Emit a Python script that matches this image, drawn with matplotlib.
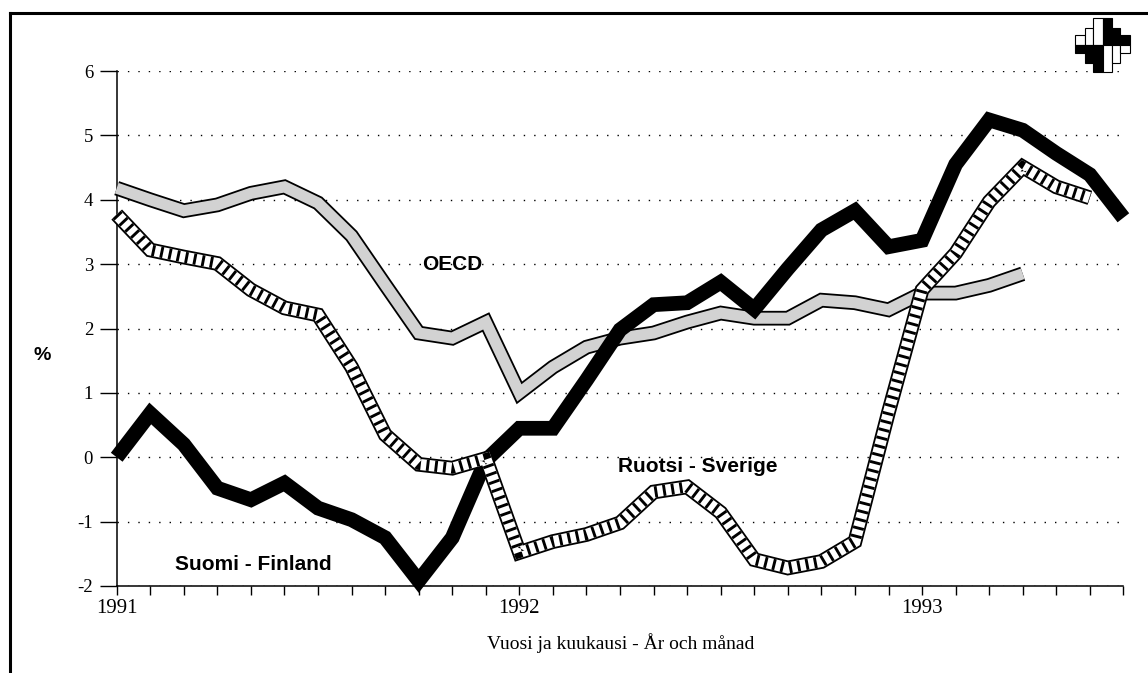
import matplotlib
matplotlib.use("Agg")
import matplotlib.pyplot as plt
from matplotlib.lines import Line2D
from matplotlib.patches import Rectangle
import numpy as np

# ---------------- data ----------------
year_labels = ["1991", "1992", "1993"]
year_positions = [0, 12, 24]           # month index of January
n_months = 31                          # Jan 1991 .. Jul 1993

finland = [0.0, 0.68, 0.2, -0.48, -0.66, -0.40, -0.79, -0.97, -1.25, -1.92,
           -1.25, -0.05, 0.45, 0.45, 1.2, 1.98, 2.37, 2.4, 2.72, 2.3,
           2.93, 3.53, 3.83, 3.27, 3.37, 4.55, 5.24, 5.08, 4.72, 4.39, 3.72]
oecd = [4.18, 4.0, 3.83, 3.92, 4.1, 4.2, 3.95, 3.44, 2.68, 1.93,
        1.85, 2.1, 1.0, 1.4, 1.71, 1.85, 1.93, 2.1, 2.24, 2.16,
        2.16, 2.44, 2.4, 2.29, 2.55, 2.55, 2.67, 2.85]
sweden = [3.77, 3.22, 3.11, 3.01, 2.6, 2.32, 2.21, 1.4, 0.35, -0.11,
          -0.17, -0.02, -1.48, -1.31, -1.2, -1.02, -0.54, -0.46, -0.86, -1.59,
          -1.72, -1.62, -1.31, 0.7, 2.6, 3.17, 3.97, 4.51, 4.2, 4.03]

y_ticks = [-2, -1, 0, 1, 2, 3, 4, 5, 6]
label_finland = "Suomi - Finland"
label_oecd = "OECD"
label_sweden = "Ruotsi - Sverige"
x_title = "Vuosi ja kuukausi - År och månad"
y_title = "%"

# ---------------- figure ----------------
W, H = 1148, 673
fig = plt.figure(figsize=(W / 100, H / 100), dpi=100)
fig.patch.set_facecolor("white")

def px(x, y):
    return x / W, 1 - y / H

ax_l, ax_r, ax_t, ax_b = 116.7, 1123.4, 71, 586
ax = fig.add_axes([ax_l / W, 1 - ax_b / H, (ax_r - ax_l) / W, (ax_b - ax_t) / H])
ax.set_xlim(0, n_months - 1)
ax.set_ylim(-2, 6)
ax.set_facecolor("white")

for s in ["top", "right"]:
    ax.spines[s].set_visible(False)
for s in ["left", "bottom"]:
    ax.spines[s].set_linewidth(1.1)
    ax.spines[s].set_color("black")

serif = "Liberation Serif"
sans = "Liberation Sans"

ax.set_yticks(y_ticks)
ax.set_yticklabels([str(v) for v in y_ticks], fontfamily=serif, fontsize=13.5)
ax.tick_params(axis="y", direction="out", length=12, width=1.0, pad=5, colors="black")

ax.set_xticks(year_positions)
ax.set_xticklabels(year_labels, fontfamily=serif, fontsize=15)
ax.set_xticks(np.arange(n_months), minor=True)
ax.tick_params(axis="x", which="both", direction="out", length=6.5, width=1.0, pad=3)

ax.grid(axis="y", linestyle=(0, (1, 6.5)), color="black", linewidth=1.0)
ax.set_axisbelow(True)

x_f = np.arange(len(finland))
x_o = np.arange(len(oecd))
x_s = np.arange(len(sweden))

outer = 10.6
inner = 8.0

# OECD: stippled grey band with black outline
ax.plot(x_o, oecd, color="black", lw=outer, solid_joinstyle="miter",
        solid_capstyle="butt", zorder=3, clip_on=False)
ax.plot(x_o, oecd, color="#d2d2d2", lw=inner, solid_joinstyle="miter",
        solid_capstyle="butt", zorder=3.1, clip_on=False)

# Finland: solid thick black
ax.plot(x_f, finland, color="black", lw=outer, solid_joinstyle="miter",
        solid_capstyle="butt", zorder=4, clip_on=False)

# Sweden: hatched band with black outline
ax.plot(x_s, sweden, color="black", lw=outer, solid_joinstyle="miter",
        solid_capstyle="butt", zorder=5, clip_on=False)
ax.plot(x_s, sweden, color="white", lw=inner, solid_joinstyle="miter",
        solid_capstyle="butt", zorder=5.1, clip_on=False)
ax.plot(x_s, sweden, color="black", lw=inner, dashes=(0.26, 0.5),
        dash_capstyle="butt", dash_joinstyle="miter", zorder=5.2, clip_on=False)

# series labels
ax.text(10.0, 2.99, label_oecd, fontfamily=sans, fontweight="bold", fontsize=15,
        ha="center", va="center", zorder=6)
ax.text(17.33, -0.15, label_sweden, fontfamily=sans, fontweight="bold", fontsize=15,
        ha="center", va="center", zorder=6)
ax.text(4.07, -1.66, label_finland, fontfamily=sans, fontweight="bold", fontsize=15,
        ha="center", va="center", zorder=6)

# axis titles
fig.text(*px(621, 643), x_title, fontfamily=serif, fontsize=14, ha="center", va="center")
fig.text(*px(42, 355), y_title, fontfamily=sans, fontweight="bold", fontsize=14,
         ha="center", va="center")

# outer frame (left & top edges visible)
fig.add_artist(Line2D([10 / W, 10 / W], [0, 1 - 13 / H], transform=fig.transFigure,
                      color="black", lw=2.2))
fig.add_artist(Line2D([10 / W, 1], [1 - 13 / H, 1 - 13 / H], transform=fig.transFigure,
                      color="black", lw=2.2))

# logo (decoration)
def prect(x0, y0, x1, y1, fc):
    fig.add_artist(Rectangle((x0 / W, 1 - y1 / H), (x1 - x0) / W, (y1 - y0) / H,
                             transform=fig.transFigure, facecolor=fc,
                             edgecolor="black", lw=0.8))

cols = [(1075, 1085, 35, 53), (1085, 1093, 28, 63), (1093, 1103, 18, 72),
        (1103, 1112, 18, 72), (1112, 1120, 28, 63), (1120, 1130, 35, 53)]
for i, (x0, x1, y0, y1) in enumerate(cols):
    mid = 45
    top_c, bot_c = ("white", "black") if i < 3 else ("black", "white")
    prect(x0, y0, x1, mid, top_c)
    prect(x0, mid, x1, y1, bot_c)

fig.savefig("out.png", dpi=100, facecolor="white")
